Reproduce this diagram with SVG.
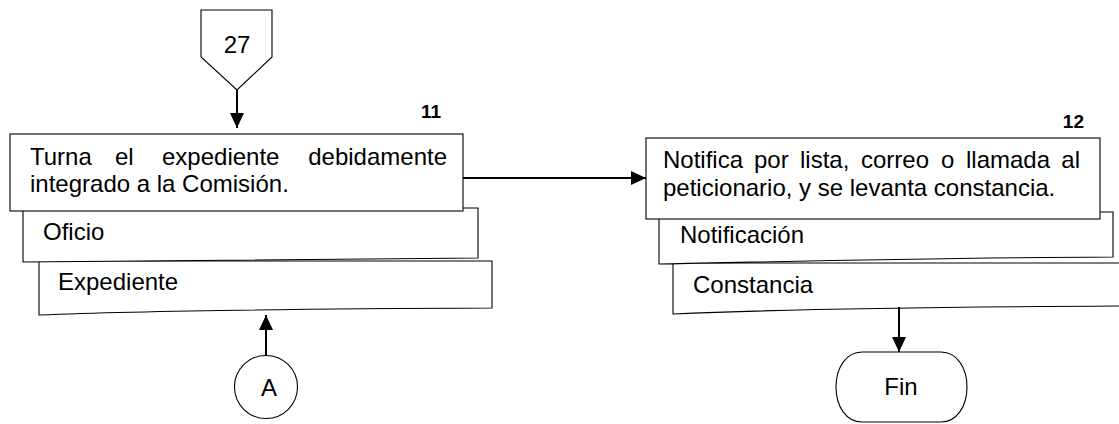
<svg xmlns="http://www.w3.org/2000/svg" width="1119" height="424" viewBox="0 0 1119 424">
<style>
.shape{fill:#fff;stroke:#000;stroke-width:1.1}
.t{font-family:"Liberation Sans",Arial,sans-serif;font-size:24px;fill:#000}
.num{font-family:"Liberation Sans",Arial,sans-serif;font-size:19px;font-weight:bold;fill:#000}
.conn{stroke:#000;stroke-width:2;fill:none}
</style>
<defs>
<marker id="ah" markerUnits="userSpaceOnUse" markerWidth="15" markerHeight="14" refX="15" refY="7" orient="auto">
<path d="M0,0 L15,7 L0,14 Z" fill="#000"/>
</marker>
</defs>
<g id="n27">
<path class="shape" d="M201,10 L272,10 L272,57 L237,90 L201,57 Z"/>
<text class="t" x="237" y="53" text-anchor="middle">27</text>
</g>
<g id="docExpediente">
<path class="shape" d="M39,261 L492,261 L492,308 C270,309 110,312 39,315 Z"/>
<text class="t" x="58" y="290">Expediente</text>
</g>
<g id="docOficio">
<path class="shape" d="M23,208 L478,208 L478,258 C260,259 90,262 23,262 Z"/>
<text class="t" x="43" y="240">Oficio</text>
</g>
<g id="n11">
<rect class="shape" x="10" y="134" width="453" height="77"/>
<text class="t" y="165"><tspan x="30">Turna</tspan><tspan x="115">el</tspan><tspan x="162">expediente</tspan><tspan x="447" text-anchor="end">debidamente</tspan></text>
<text class="t" x="30" y="192">integrado a la Comisión.</text>
<text class="num" x="441" y="118" text-anchor="end">11</text>
</g>
<g id="docConstancia">
<path class="shape" d="M673,263 L1135,263 L1135,306 C900,307 740,311 673,314 Z"/>
<text class="t" x="693" y="293">Constancia</text>
</g>
<g id="docNotificacion">
<path class="shape" d="M659,212 L1113,212 L1113,257 C900,258 730,263 659,264 Z"/>
<text class="t" x="680" y="243">Notificación</text>
</g>
<g id="n12">
<rect class="shape" x="646" y="138" width="454" height="81"/>
<text class="t" y="168"><tspan x="663">Notifica</tspan><tspan x="754">por</tspan><tspan x="800">lista,</tspan><tspan x="861">correo</tspan><tspan x="941">o</tspan><tspan x="966">llamada</tspan><tspan x="1080" text-anchor="end">al</tspan></text>
<text class="t" x="663" y="196">peticionario, y se levanta constancia.</text>
<text class="num" x="1084" y="128" text-anchor="end">12</text>
</g>
<g id="nA">
<circle class="shape" cx="266" cy="387" r="31.5"/>
<text class="t" x="269" y="396" text-anchor="middle">A</text>
</g>
<g id="nFin">
<path class="shape" d="M862,352 H941 C957,352 967,368 967,387 C967,406 957,422 941,422 H862 C846,422 836,406 836,387 C836,368 846,352 862,352 Z"/>
<text class="t" x="901" y="395" text-anchor="middle">Fin</text>
</g>
<g id="connectors">
<line class="conn" x1="237" y1="90" x2="237" y2="128" marker-end="url(#ah)"/>
<line class="conn" x1="463" y1="178" x2="646" y2="178" marker-end="url(#ah)"/>
<line class="conn" x1="266" y1="355" x2="266" y2="315" marker-end="url(#ah)"/>
<line class="conn" x1="899" y1="307" x2="899" y2="352" marker-end="url(#ah)"/>
</g>
</svg>
